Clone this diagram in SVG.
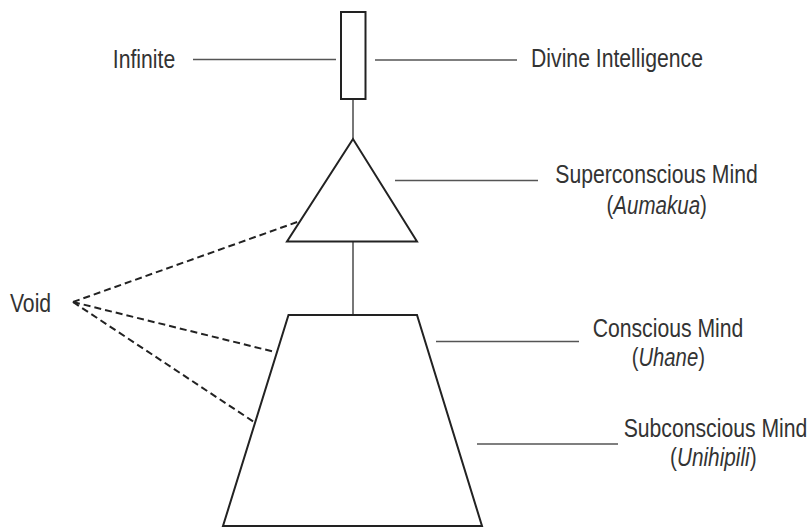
<svg xmlns="http://www.w3.org/2000/svg" width="812" height="528" viewBox="0 0 812 528">
<style>
.shape{fill:#fff;stroke:#222;stroke-width:2;stroke-linejoin:miter}
.lead{stroke:#555;stroke-width:1.6;fill:none}
.dash{stroke:#222;stroke-width:2;stroke-dasharray:7 4;fill:none}
text{font-family:"Liberation Sans",Arial,sans-serif;font-size:26px;fill:#333;text-anchor:middle}
.it{font-style:italic}
</style>
<rect width="812" height="528" fill="#fff"/>
<g id="connectors">
<line class="lead" x1="353" y1="99" x2="353" y2="139"/>
<line class="lead" x1="353" y1="242" x2="353" y2="315"/>
<line class="lead" x1="193" y1="59.5" x2="336" y2="59.5"/>
<line class="lead" x1="375" y1="60" x2="517" y2="60"/>
<line class="lead" x1="395" y1="180.5" x2="538" y2="180.5"/>
<line class="lead" x1="436" y1="341.5" x2="579" y2="341.5"/>
<line class="lead" x1="477" y1="444" x2="618" y2="444"/>
<line class="dash" x1="73" y1="302" x2="300" y2="221"/>
<line class="dash" x1="73" y1="302" x2="275" y2="352"/>
<line class="dash" x1="73" y1="302" x2="254" y2="422"/>
</g>
<g id="infinite-box"><rect class="shape" x="341" y="12" width="24.5" height="87"/></g>
<g id="superconscious-triangle"><polygon class="shape" points="353,139 287,241.5 417,241.5"/></g>
<g id="conscious-trapezoid"><polygon class="shape" points="288.5,315 417,315 482,526 223,526"/></g>
<g id="label-infinite"><text transform="translate(144,67.5) scale(0.815,1)">Infinite</text></g>
<g id="label-divine"><text transform="translate(617,67) scale(0.815,1)">Divine Intelligence</text></g>
<g id="label-superconscious">
<text transform="translate(656.5,182.5) scale(0.815,1)">Superconscious Mind</text>
<text transform="translate(656.7,213.5) scale(0.79,1)">(<tspan class="it">Aumakua</tspan>)</text>
</g>
<g id="label-void"><text transform="translate(30.5,312) scale(0.815,1)">Void</text></g>
<g id="label-conscious">
<text transform="translate(668,336.5) scale(0.815,1)">Conscious Mind</text>
<text transform="translate(668.3,365.5) scale(0.78,1)">(<tspan class="it">Uhane</tspan>)</text>
</g>
<g id="label-subconscious">
<text transform="translate(715.5,437) scale(0.815,1)">Subconscious Mind</text>
<text transform="translate(713.3,465.5) scale(0.8,1)">(<tspan class="it">Unihipili</tspan>)</text>
</g>
</svg>
